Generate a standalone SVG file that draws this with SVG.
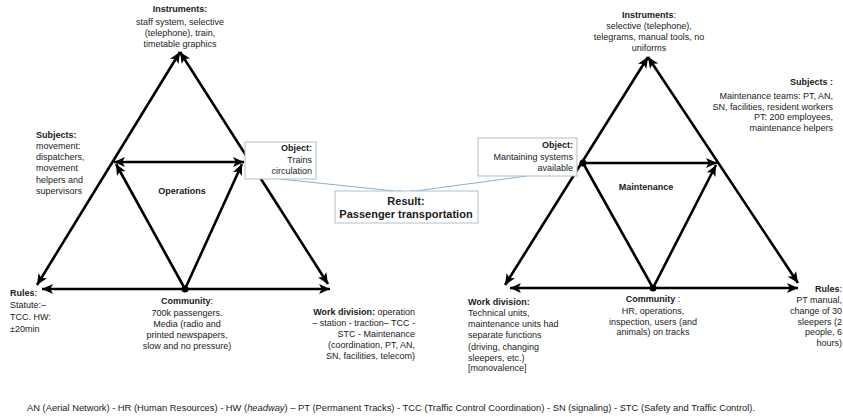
<svg xmlns="http://www.w3.org/2000/svg" width="843" height="417" viewBox="0 0 843 417">
<style>
text{font-family:"Liberation Sans",Arial,sans-serif;font-size:9px;fill:#1a1a1a}
.b{font-weight:bold}
.m{text-anchor:middle}
.e{text-anchor:end}
.ln{stroke:#000;stroke-width:2.6;fill:none}
.box{fill:#fff;stroke:#a9bfd0;stroke-width:1}
.cn{stroke:#8eaec6;stroke-width:1;fill:none}
</style>
<defs>
<marker id="ah" viewBox="0 0 10 9" refX="10" refY="4.5" markerWidth="11" markerHeight="10" markerUnits="userSpaceOnUse" orient="auto-start-reverse"><path d="M0,0 L10,4.5 L0,9 L2.5,4.5 z" fill="#000"/></marker>
<marker id="sa" viewBox="0 0 6 4" refX="6" refY="2" markerWidth="5" markerHeight="4" markerUnits="userSpaceOnUse" orient="auto"><path d="M0,0 L6,2 L0,4 z" fill="#6f93b3"/></marker>
</defs>
<rect width="843" height="417" fill="#fff"/>

<g id="connectors">
<path class="cn" d="M280,179 L404,192" marker-end="url(#sa)"/>
<path class="cn" d="M527,176 L408,192" marker-end="url(#sa)"/>
<!-- left triangle -->
<line class="ln" x1="180" y1="52" x2="37" y2="285" marker-start="url(#ah)" marker-end="url(#ah)"/>
<line class="ln" x1="180" y1="52" x2="328" y2="284" marker-start="url(#ah)" marker-end="url(#ah)"/>
<line class="ln" x1="114" y1="162" x2="244" y2="162" marker-start="url(#ah)" marker-end="url(#ah)"/>
<line class="ln" x1="185" y1="289" x2="116" y2="164" marker-end="url(#ah)"/>
<line class="ln" x1="185" y1="289" x2="242" y2="164" marker-end="url(#ah)"/>
<line class="ln" x1="42" y1="289" x2="330" y2="289" marker-start="url(#ah)" marker-end="url(#ah)"/>
<circle cx="185" cy="289" r="3.5" fill="#000"/>
<!-- right triangle -->
<line class="ln" x1="648" y1="57" x2="505" y2="285" marker-start="url(#ah)" marker-end="url(#ah)"/>
<line class="ln" x1="648" y1="57" x2="798" y2="283" marker-start="url(#ah)" marker-end="url(#ah)"/>
<line class="ln" x1="583" y1="163" x2="717" y2="163" marker-end="url(#ah)"/>
<line class="ln" x1="653" y1="288" x2="583" y2="163"/>
<line class="ln" x1="653" y1="288" x2="716" y2="165" marker-end="url(#ah)"/>
<line class="ln" x1="510" y1="288" x2="798" y2="288" marker-start="url(#ah)" marker-end="url(#ah)"/>
<circle cx="583" cy="163" r="3.5" fill="#000"/>
<circle cx="653" cy="288" r="3.5" fill="#000"/>
</g>

<g id="left-instruments">
<text class="m b" x="180" y="12">Instruments:</text>
<text class="m" x="180" y="25">staff  system, selective</text>
<text class="m" x="180" y="36">(telephone),  train,</text>
<text class="m" x="180" y="47">timetable graphics</text>
</g>
<g id="left-subjects">
<text class="b" x="36" y="138">Subjects:</text>
<text x="36" y="149">movement:</text>
<text x="36" y="160">dispatchers,</text>
<text x="36" y="171">movement</text>
<text x="36" y="183">helpers  and</text>
<text x="36" y="194">supervisors</text>
</g>
<g id="left-object">
<rect class="box" x="245" y="142" width="71" height="37"/>
<text class="e b" x="312" y="151">Object:</text>
<text class="e" x="312" y="163">Trains</text>
<text class="e" x="312" y="174">circulation</text>
</g>
<g id="operations">
<text class="m b" x="182" y="194">Operations</text>
</g>
<g id="left-rules">
<text x="10" y="296"><tspan class="b">Rules</tspan>:</text>
<text x="10" y="308">Statute:–</text>
<text x="10" y="320">TCC. HW:</text>
<text x="10" y="332">±20min</text>
</g>
<g id="left-community">
<text class="m" x="187" y="304"><tspan class="b">Community</tspan>:</text>
<text class="m" x="187" y="316">700k passengers.</text>
<text class="m" x="187" y="327">Media (radio and</text>
<text class="m" x="187" y="338">printed newspapers,</text>
<text class="m" x="187" y="349">slow and no pressure)</text>
</g>
<g id="left-workdivision">
<text class="e" x="415" y="315"><tspan class="b">Work division:</tspan>  operation</text>
<text class="e" x="415" y="326">– station - traction– TCC -</text>
<text class="e" x="415" y="337">STC - Maintenance</text>
<text class="e" x="415" y="348">(coordination, PT, AN,</text>
<text class="e" x="415" y="359">SN, facilities, telecom)</text>
</g>

<g id="result">
<rect class="box" x="335" y="191" width="143" height="32"/>
<text class="m b" x="406" y="205" style="font-size:11px">Result:</text>
<text class="m b" x="406" y="218" style="font-size:11px">Passenger transportation</text>
</g>

<g id="right-instruments">
<text class="m" x="649" y="18"><tspan class="b">Instruments</tspan>:</text>
<text class="m" x="649" y="29">selective (telephone),</text>
<text class="m" x="649" y="40">telegrams, manual tools, no</text>
<text class="m" x="649" y="51">uniforms</text>
</g>
<g id="right-subjects">
<text class="e b" x="833" y="85">Subjects :</text>
<text class="e" x="833" y="99">Maintenance teams: PT, AN,</text>
<text class="e" x="833" y="110">SN, facilities, resident workers</text>
<text class="e" x="833" y="120">PT: 200 employees,</text>
<text class="e" x="833" y="131">maintenance helpers</text>
</g>
<g id="right-object">
<rect class="box" x="478" y="138" width="99" height="38"/>
<text class="e b" x="573" y="148">Object:</text>
<text class="e" x="573" y="160">Mantaining systems</text>
<text class="e" x="573" y="171">available</text>
</g>
<g id="maintenance">
<text class="m b" x="646" y="190">Maintenance</text>
</g>
<g id="right-workdivision">
<text class="b" x="468" y="305">Work division:</text>
<text x="468" y="316">Technical units,</text>
<text x="468" y="327">maintenance  units had</text>
<text x="468" y="338">separate functions</text>
<text x="468" y="350">(driving, changing</text>
<text x="468" y="361">sleepers, etc.)</text>
<text x="468" y="371">[monovalence]</text>
</g>
<g id="right-community">
<text class="m" x="653" y="302"><tspan class="b">Community</tspan> :</text>
<text class="m" x="653" y="314">HR, operations,</text>
<text class="m" x="653" y="325">inspection, users (and</text>
<text class="m" x="653" y="335">animals) on tracks</text>
</g>
<g id="right-rules">
<text class="e" x="842" y="292"><tspan class="b">Rules</tspan>:</text>
<text class="e" x="842" y="303">PT manual,</text>
<text class="e" x="842" y="314">change of 30</text>
<text class="e" x="842" y="325">sleepers (2</text>
<text class="e" x="842" y="335">people, 6</text>
<text class="e" x="842" y="346">hours)</text>
</g>

<g id="footer">
<text x="27" y="411" style="font-size:9.35px">AN  (Aerial Network) - HR (Human Resources) - HW (<tspan font-style="italic">headway</tspan>) – PT (Permanent Tracks) - TCC (Traffic Control Coordination)  - SN (signaling) - STC (Safety and Traffic Control).</text>
</g>
</svg>
